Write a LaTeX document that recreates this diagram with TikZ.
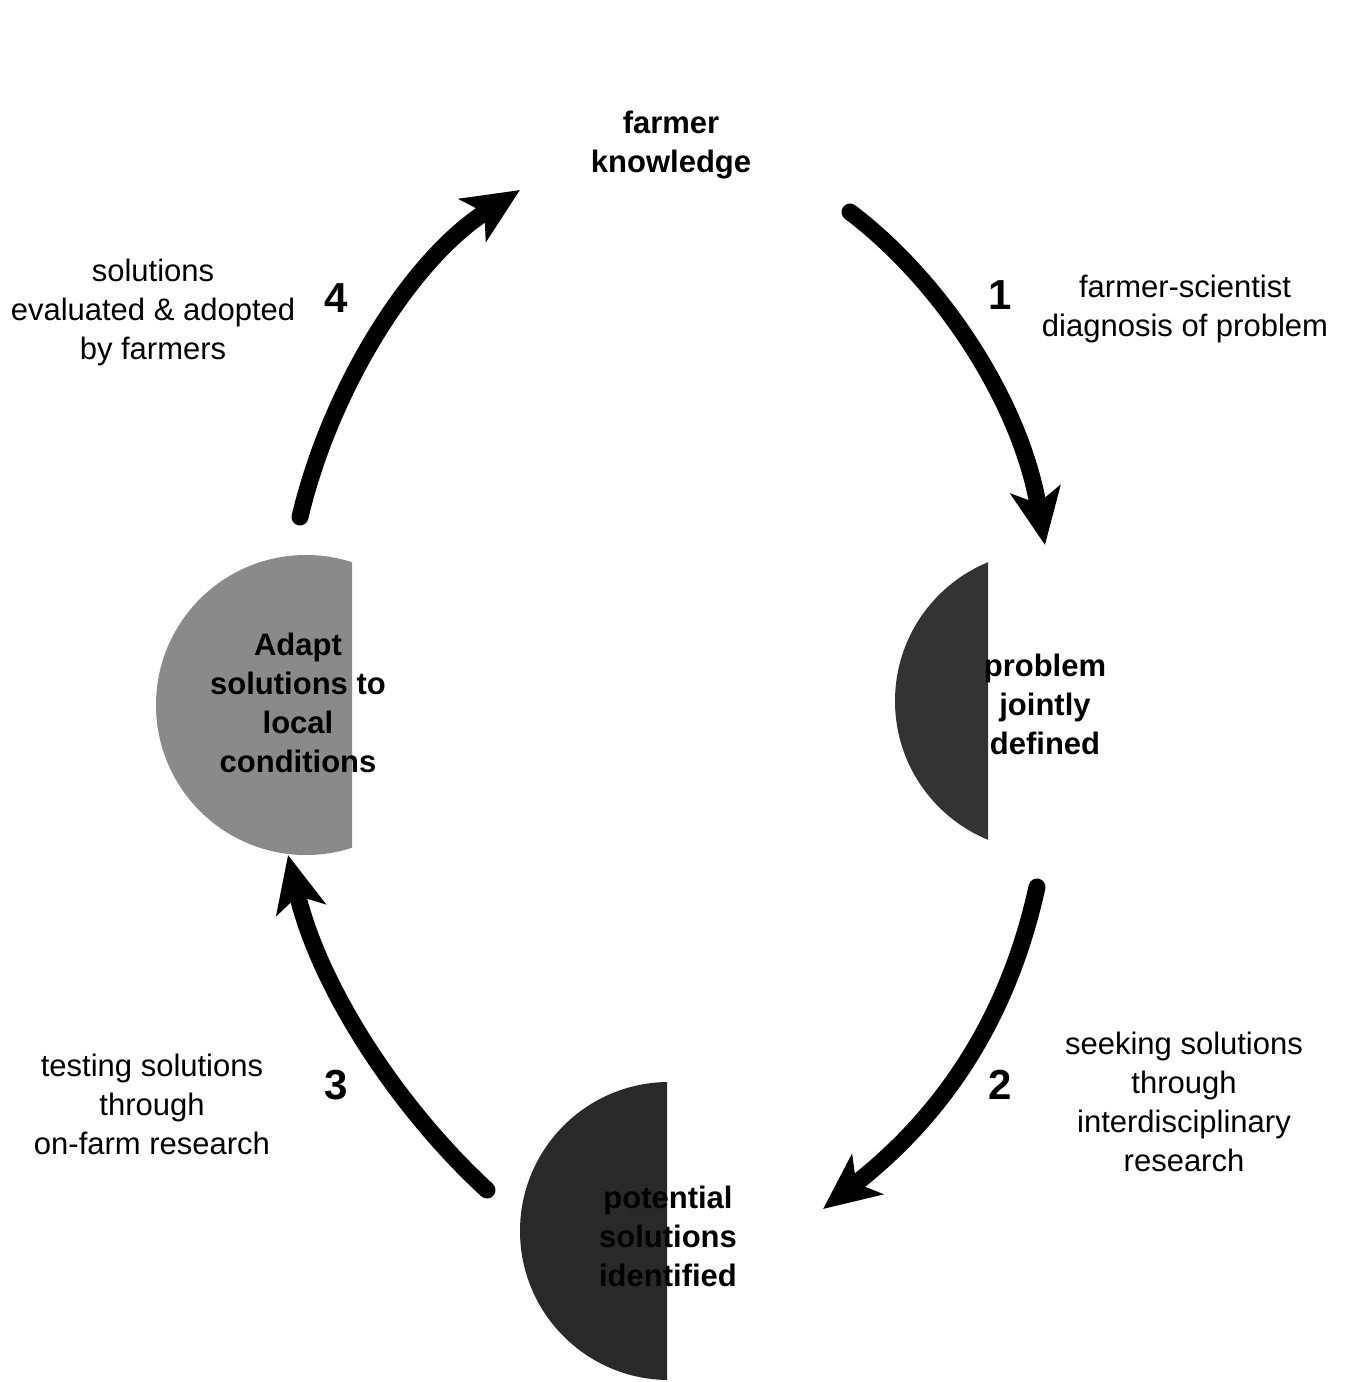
\documentclass[tikz,border=0pt]{standalone}
\usepackage{fontspec}
\setmainfont{Liberation Sans}
\usetikzlibrary{arrows.meta}
\tikzset{
  lbl/.style={font=\fontsize{31}{39}\selectfont, align=center, inner sep=0pt},
  blbl/.style={font=\fontsize{31}{39}\selectfont\bfseries, align=center, inner sep=0pt},
  num/.style={font=\fontsize{42}{48}\selectfont\bfseries, inner sep=0pt},
  flow/.style={line width=17pt, line cap=round, -{Stealth[length=56pt,width=50pt,inset=14pt]}},
}
\definecolor{discmid}{gray}{0.54}
\definecolor{discdark}{gray}{0.2}
\definecolor{discdarker}{gray}{0.16}
\begin{document}
\begin{tikzpicture}[x=1pt,y=-1pt]
\useasboundingbox[fill=white] (0,0) rectangle (1350,1382);
% half discs
\begin{scope}
  \clip (100,500) rectangle (352,900);
  \fill[discmid] (306,705) circle[radius=150pt];
\end{scope}
\begin{scope}
  \clip (850,500) rectangle (988,900);
  \fill[discdark] (1045,701) circle[radius=150pt];
\end{scope}
\begin{scope}
  \clip (450,1060) rectangle (667,1400);
  \fill[discdarker] (669,1231) circle[radius=149pt];
\end{scope}
% texts
\node[blbl] (fk) at (671,145) {farmer\\knowledge};
\node[blbl] (adapt) at (298,703) {Adapt\\solutions to\\local\\conditions};
\node[blbl] (prob) at (1045,704) {problem\\jointly\\defined};
\node[blbl] (pot) at (668,1236) {potential\\solutions\\identified};
\node[lbl] (t4) at (153,312) {solutions\\evaluated \& adopted\\by farmers};
\node[lbl] (t1) at (1185,309) {farmer-scientist\\diagnosis of problem};
\node[lbl] (t2) at (1184,1102) {seeking solutions\\through\\interdisciplinary\\research};
\node[lbl] (t3) at (152,1104) {testing solutions\\through\\on-farm research};
\node[num] (n4) at (336,298) {4};
\node[num] (n1) at (1000,295) {1};
\node[num] (n2) at (1000,1085) {2};
\node[num] (n3) at (336,1085) {3};
% arrow ends
\coordinate (a1s) at (850,212);
\coordinate (a1e) at (1045,545);
\coordinate (a2s) at (1037,887);
\coordinate (a2e) at (823,1209);
\coordinate (a3s) at (487,1190);
\coordinate (a3e) at (288,855);
\coordinate (a4s) at (300,517);
\coordinate (a4e) at (520,190);
\draw[flow] (a1s) .. controls (940,280) and (1020,400) .. (a1e);
\draw[flow] (a2s) .. controls (1010,1010) and (950,1110) .. (a2e);
\draw[flow] (a3s) .. controls (400,1110) and (320,990) .. (a3e);
\draw[flow] (a4s) .. controls (330,390) and (410,260) .. (a4e);
\end{tikzpicture}
\end{document}
